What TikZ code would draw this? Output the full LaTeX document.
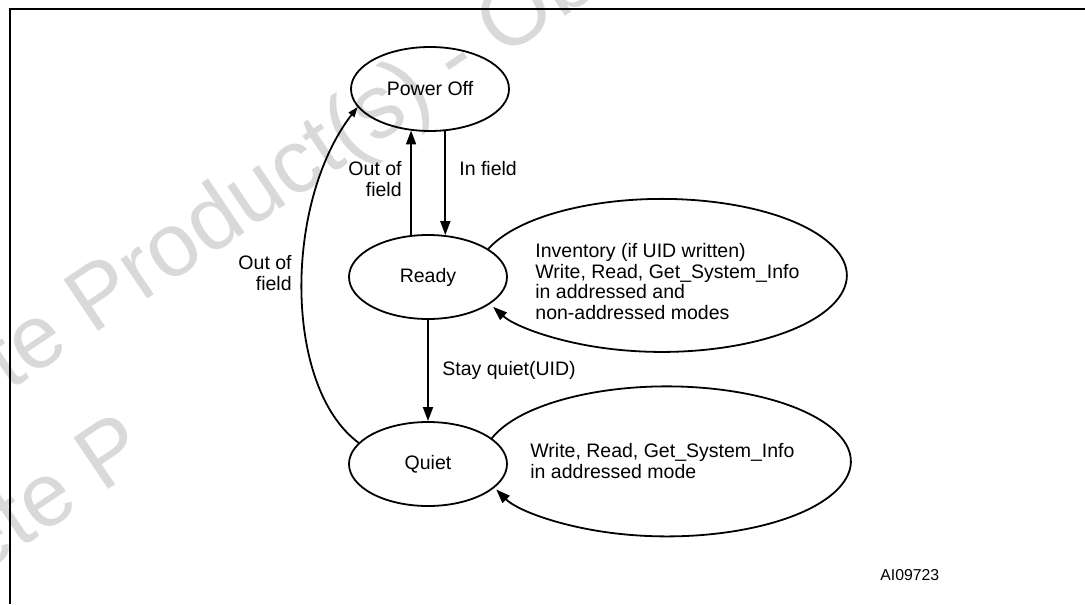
\documentclass[tikz,border=0pt]{standalone}
\usepackage{fontspec}
\setmainfont{Liberation Sans}
\usetikzlibrary{arrows.meta,shapes.geometric}
\newcommand\dfont{\fontsize{9.75pt}{10.3pt}\selectfont}
\begin{document}
\begin{tikzpicture}[x=0.5pt,y=0.5pt,
  state/.style={draw, line width=0.9pt, ellipse, minimum width=79pt, minimum height=42pt, inner sep=0pt, font=\dfont},
  conn/.style={line width=0.9pt, -{Triangle[length=7pt,width=5pt]}},
  connsmall/.style={line width=0.9pt, -{Triangle[length=5pt,width=3.6pt]}},
  lbl/.style={inner sep=0pt, font=\dfont},
  wm/.style={inner sep=0pt, text=black!15, font=\fontsize{45pt}{48pt}\selectfont, rotate=34, anchor=base west}
]
\useasboundingbox (0,0) rectangle (1085,-604);
\fill[white] (0,0) rectangle (1085,-604);
% watermark
\begin{scope}
  \clip (0,0) rectangle (1085,-604);
  \node[wm] (wm1) at (92,-336) {\llap{Obsolete }Product(s) - Obsolete Product(s)};
  \node[wm] (wm2) at (102,-494) {\llap{Obsolete }P};
\end{scope}
% frame
\draw[line width=0.9pt] (10,-604) -- (10,-9) -- (1085,-9);
% states
\node[state] (power) at (430,-89) {Power Off};
\node[state] (ready) at (428,-277) {Ready};
\node[state] (quiet) at (428,-464) {Quiet};
% transitions
\draw[conn] (ready.112) -- (ready.112 |- power.244);
\draw[conn] (power.290) -- (power.290 |- ready.68);
\draw[conn] (ready.south) -- (quiet.north);
\draw[conn] (ready.25) arc[start angle=159.7, end angle=-155.7, x radius=92.5pt, y radius=38.25pt];
\draw[conn] (quiet.22) arc[start angle=162, end angle=-158, x radius=92pt, y radius=37.5pt];
\draw[connsmall] (quiet.163) .. controls (283.5,-387) and (283.5,-203) .. (power.194);
% labels
\node[lbl, anchor=north east, align=right] (oof1) at (402,-161) {Out of\\field};
\node[lbl, anchor=north west] (inf) at (459,-161) {In field};
\node[lbl, anchor=north east, align=right] (oof2) at (292,-255) {Out of\\field};
\node[lbl, anchor=north west] (sq) at (442,-361) {Stay quiet(UID)};
\node[lbl, anchor=north west, align=left] (inv) at (535,-243) {Inventory (if UID written)\\Write, Read, Get\_System\_Info\\in addressed and\\non-addressed modes};
\node[lbl, anchor=north west, align=left] (wr) at (530,-443) {Write, Read, Get\_System\_Info\\in addressed mode};
\node[inner sep=0pt, anchor=north west, font=\fontsize{7.9pt}{9pt}\selectfont] (id) at (880,-569.5) {AI09723};
\end{tikzpicture}
\end{document}
